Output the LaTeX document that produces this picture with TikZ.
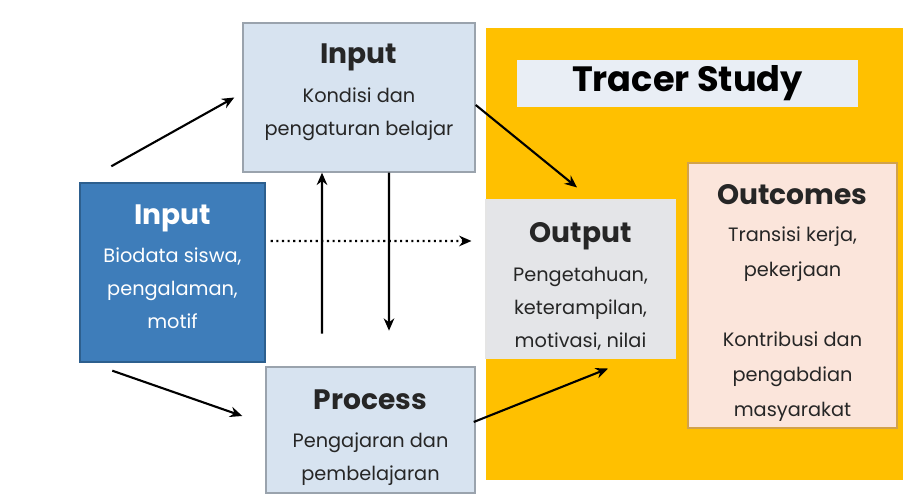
\documentclass[tikz,border=0pt]{standalone}
\usepackage{fontspec}
\setmainfont{Poppins}
\usetikzlibrary{arrows.meta}

\definecolor{inblue}{HTML}{3E7DBA}
\definecolor{inblueline}{HTML}{2D5F8E}
\definecolor{paleblue}{HTML}{D7E3F0}
\definecolor{boxline}{HTML}{9AA3AD}
\definecolor{tracer}{HTML}{FFC000}
\definecolor{bandgray}{HTML}{E9EEF5}
\definecolor{outgray}{HTML}{E4E5E8}
\definecolor{outpink}{HTML}{FBE5DB}
\definecolor{pinkline}{HTML}{D2A24A}

\newcommand{\boxtitle}{\fontsize{16}{20}\selectfont\bfseries}
% struts to push a box text down (tall top) or up (deep bottom)
\newcommand{\tallstrut}{\rule{0pt}{20pt}}
\newcommand{\deepstrut}[1]{\rule[-#1]{0pt}{0pt}}

\begin{document}
\begin{tikzpicture}[>={Stealth[length=7pt,width=6pt]}]
\tikzstyle{every node}=[font=\fontsize{11}{18.8}\selectfont, align=center, inner sep=0pt]
\tikzstyle{lightbox}=[draw=boxline, fill=paleblue, line width=0.8pt, text=black!85]
\tikzstyle{flow}=[->, line width=1.2pt]

% fix the page size
\useasboundingbox (0,0) rectangle (18.14,10);

% yellow tracer study area
\fill [tracer] (9.72,0.40) rectangle (18.06,9.44);
\node [fill=bandgray, minimum width=6.82cm, minimum height=0.94cm, font=\fontsize{20}{24}\selectfont\bfseries] (band) at (13.75,8.33) {Tracer Study};

% boxes
\node [lightbox, minimum width=4.64cm, minimum height=2.98cm] (topIn) at (7.18,8.05)
  {{\boxtitle Input}\\[3pt] Kondisi dan\\ pengaturan belajar\deepstrut{9pt}};
\node [draw=inblueline, fill=inblue, line width=0.8pt, text=white, minimum width=3.70cm, minimum height=3.58cm] (leftIn) at (3.45,4.55)
  {{\boxtitle Input}\\[3pt] Biodata siswa,\\ pengalaman,\\ motif\deepstrut{7pt}};
\node [lightbox, minimum width=4.18cm, minimum height=2.52cm] (proc) at (7.41,1.40)
  {{\boxtitle\tallstrut Process}\\[3pt] Pengajaran dan\\ pembelajaran};
\node [draw=white!80!gray, fill=outgray, line width=0.6pt, text=black!85, minimum width=3.78cm, minimum height=3.16cm] (out) at (11.61,4.42)
  {{\boxtitle\tallstrut Output}\\[3pt] Pengetahuan,\\ keterampilan,\\ motivasi, nilai};
\node [draw=pinkline, fill=outpink, line width=0.8pt, text=black!85, minimum width=4.18cm, minimum height=5.30cm, font=\fontsize{11}{20}\selectfont] (outc) at (15.85,4.09)
  {{\boxtitle\tallstrut Outcomes}\\[1pt] Transisi kerja,\\ pekerjaan\\[20pt] Kontribusi dan\\ pengabdian\\ masyarakat};

% arrows
\draw [flow] ([shift={(0.64,0.32)}]leftIn.north west) -- ([xshift=-0.16cm]topIn.west);
\draw [flow] ([shift={(0.66,-0.16)}]leftIn.south west) -- ([shift={(-0.46,0.28)}]proc.west);
\draw [flow] ([shift={(-0.74,-3.22)}]topIn.south) -- ([xshift=-0.74cm]topIn.south);
\draw [flow] ([xshift=0.6cm]topIn.south) -- ([shift={(0.6,-3.16)}]topIn.south);
\draw [flow, dotted] ([shift={(0.1,0.63)}]leftIn.east) -- ([shift={(-0.28,0.76)}]out.west);
\draw [flow] ([yshift=-0.15cm]topIn.east) -- ([shift={(-0.07,0.24)}]out.north);
\draw [flow] ([shift={(-0.04,0.16)}]proc.east) -- ([shift={(0.55,-0.2)}]out.south);

\end{tikzpicture}
\end{document}
